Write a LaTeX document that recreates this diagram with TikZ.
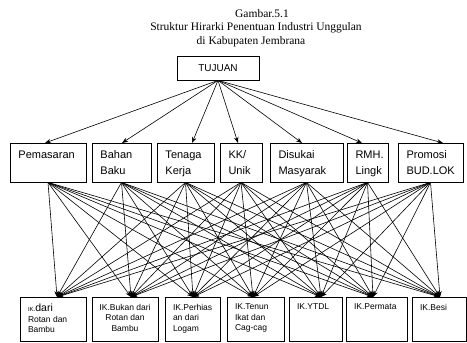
\documentclass[tikz,border=0pt]{standalone}
\usepackage{fontspec}
\setmainfont{Liberation Serif}
\newfontfamily\arialf{Liberation Sans}
\usetikzlibrary{arrows.meta}
\newcommand{\bxl}[5]{\parbox[c][#2][t]{#1}{\vspace*{#3}\raggedright\leftskip=#4\relax #5}}
\newcommand{\bxc}[4]{\parbox[c][#2][t]{#1}{\vspace*{#3}\centering #4}}
\begin{document}
\begin{tikzpicture}[x=1pt,y=-1pt,
  box/.style={draw, line width=0.8pt, inner sep=0pt, font=\arialf\fontsize{11}{16}\selectfont},
  sbox/.style={draw, line width=0.8pt, inner sep=0pt, font=\arialf\fontsize{8.5}{10.5}\selectfont},
  arr/.style={-{Stealth[length=6pt,width=4.5pt]}, line width=0.6pt},
  ttl/.style={inner sep=0pt, font=\fontsize{11.5}{13}\selectfont}]
\useasboundingbox (0,0) rectangle (467,343);
% title
\node[ttl] (t1) at (262,14) {Gambar.5.1};
\node[ttl] (t2) at (256,28) {Struktur Hirarki Penentuan Industri Unggulan};
\node[ttl] (t3) at (251,42) {di Kabupaten Jembrana};
% goal
\node[box, minimum width=82pt, minimum height=24pt, font=\arialf\fontsize{10}{12}\selectfont] (tuj) at (218,68) {TUJUAN};
% criteria
\node[box] (m1) at (48,162.5)    {\bxl{76pt}{39pt}{8pt}{8.5pt}{Pemasaran}};
\node[box] (m2) at (121.5,162.5) {\bxl{59pt}{39pt}{8pt}{8.5pt}{Bahan\\Baku}};
\node[box] (m3) at (185.5,162.5) {\bxl{57pt}{39pt}{8pt}{8.5pt}{Tenaga\\Kerja}};
\node[box] (m4) at (241,162.5)   {\bxl{42pt}{39pt}{8pt}{8.5pt}{KK/\\Unik}};
\node[box] (m5) at (306.5,162.5) {\bxl{73pt}{39pt}{8pt}{8.5pt}{Disukai\\Masyarak}};
\node[box] (m6) at (367.5,162.5) {\bxl{41pt}{39pt}{8pt}{8.5pt}{RMH.\\Lingk}};
\node[box] (m7) at (430.5,162.5) {\bxl{65pt}{39pt}{8pt}{8.5pt}{Promosi\\BUD.LOK}};
% alternatives
\node[sbox] (b1) at (53,319)    {\bxl{66pt}{44pt}{7pt}{8pt}{{\fontsize{6}{7}\selectfont IK.}{\fontsize{10.5}{11}\selectfont dari}\\Rotan dan\\Bambu}};
\node[sbox] (b2) at (125,319)   {\bxc{66pt}{44pt}{7pt}{IK.Bukan dari\\Rotan dan\\Bambu}};
\node[sbox] (b3) at (192.5,319) {\bxl{55pt}{44pt}{7pt}{8pt}{IK.Perhias\\an dari\\Logam}};
\node[sbox] (b4) at (255.5,319) {\bxl{57pt}{44pt}{7pt}{8pt}{IK.Tenun\\Ikat dan\\Cag-cag}};
\node[sbox] (b5) at (315.5,319) {\bxl{53pt}{44pt}{7pt}{8pt}{IK.YTDL}};
\node[sbox] (b6) at (376.5,319) {\bxl{61pt}{44pt}{7pt}{8pt}{IK.Permata}};
\node[sbox] (b7) at (439,319)   {\bxl{54pt}{44pt}{7pt}{8pt}{IK.Besi}};
% arrow end points
\coordinate (u1) at (45,143);
\coordinate (u2) at (122,143);
\coordinate (u3) at (192,143);
\coordinate (u4) at (238,143);
\coordinate (u5) at (302,143);
\coordinate (u6) at (362,143);
\coordinate (u7) at (443,143);
\coordinate (c1) at (57,297);
\coordinate (c2) at (131,297);
\coordinate (c3) at (193,297);
\coordinate (c4) at (253,297);
\coordinate (c5) at (321,297);
\coordinate (c6) at (373,297);
\coordinate (c7) at (440,297);
\foreach \u in {u1,u2,u3,u4,u5,u6,u7}
  \draw[arr] (tuj.south) -- (\u);
\foreach \s in {m1,m2,m3,m4,m5,m6,m7}
  \foreach \c in {c1,c2,c3,c4,c5,c6,c7}
    \draw[arr] (\s.south) -- (\c);
\end{tikzpicture}
\end{document}
